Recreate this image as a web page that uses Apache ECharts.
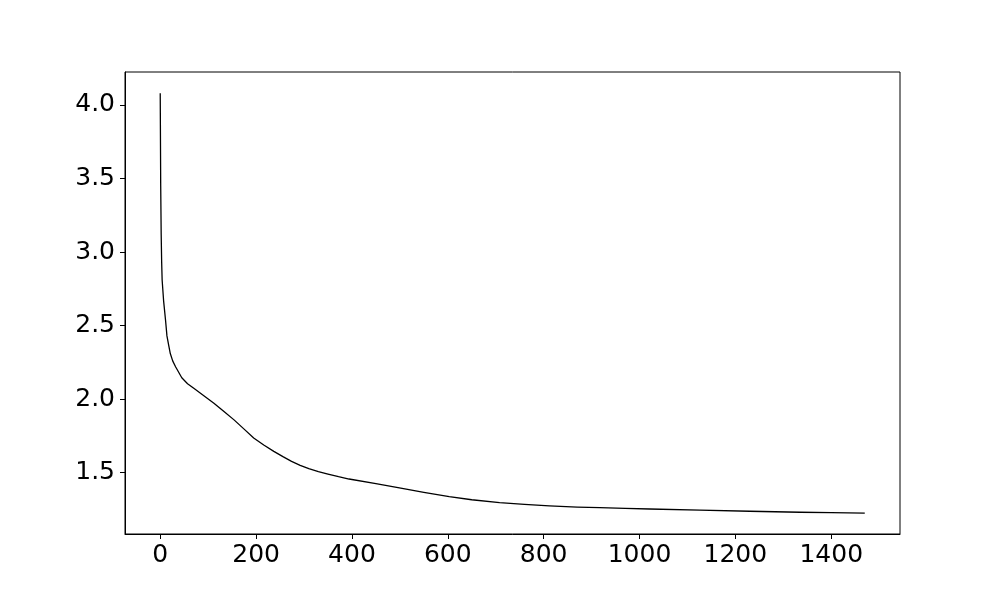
<!DOCTYPE html>
<html>
<head>
<meta charset="utf-8">
<script src="https://cdn.jsdelivr.net/npm/echarts@6/dist/echarts.min.js"></script>
<style>html,body{margin:0;padding:0;background:#fff}#c{width:1000px;height:600px}</style>
</head>
<body>
<div id="c"></div>
<script>
const epochs = [0,1,2,3,4,7,11,14,18,21,26,32,45,57,70,91,112,133,154,175,195,216,237,256,274,292,310,330,350,372,394,450,499,550,603,650,708,760,812,870,917,970,1021,1126,1230,1335,1400,1470];
const loss = [4.08,3.45,3.12,2.93,2.81,2.67,2.54,2.43,2.36,2.31,2.26,2.22,2.145,2.105,2.074,2.023,1.972,1.916,1.859,1.796,1.736,1.688,1.645,1.609,1.577,1.550,1.527,1.508,1.491,1.473,1.457,1.425,1.396,1.366,1.337,1.316,1.297,1.284,1.274,1.266,1.262,1.257,1.253,1.245,1.238,1.231,1.228,1.225];
const xTicks = [0,200,400,600,800,1000,1200,1400];
const yTicks = [1.5,2.0,2.5,3.0,3.5,4.0];

const pts = epochs.map((e,i)=>[e, loss[i]]);
const font = {fontFamily:'DejaVu Sans', fontSize:25, color:'#000'};
const chart = echarts.init(document.getElementById('c'), null, {renderer:'canvas'});
chart.setOption({
  animation:false,
  backgroundColor:'#fff',
  grid:{left:125, right:100, top:72, bottom:66, show:true, borderColor:'#000', borderWidth:1, backgroundColor:'transparent'},
  xAxis:{type:'value', min:-73.5, max:1543.5,
    axisLine:{show:true, onZero:false, lineStyle:{color:'#000', width:1}},
    axisTick:{show:true, inside:false, length:5, customValues:xTicks, lineStyle:{color:'#000', width:1}},
    axisLabel:Object.assign({margin:9, customValues:xTicks, formatter:v=>String(Math.round(v))}, font),
    splitLine:{show:false}},
  yAxis:{type:'value', min:1.0832, max:4.2238,
    axisLine:{show:true, onZero:false, lineStyle:{color:'#000', width:1}},
    axisTick:{show:true, inside:false, length:5, customValues:yTicks, lineStyle:{color:'#000', width:1}},
    axisLabel:Object.assign({margin:10, customValues:yTicks, formatter:v=>v.toFixed(1)}, font),
    splitLine:{show:false}},
  series:[{type:'line', data:pts, showSymbol:false, symbol:'none', smooth:false,
    lineStyle:{color:'#000', width:1.3, join:'round'}}]
});
</script>
</body>
</html>
